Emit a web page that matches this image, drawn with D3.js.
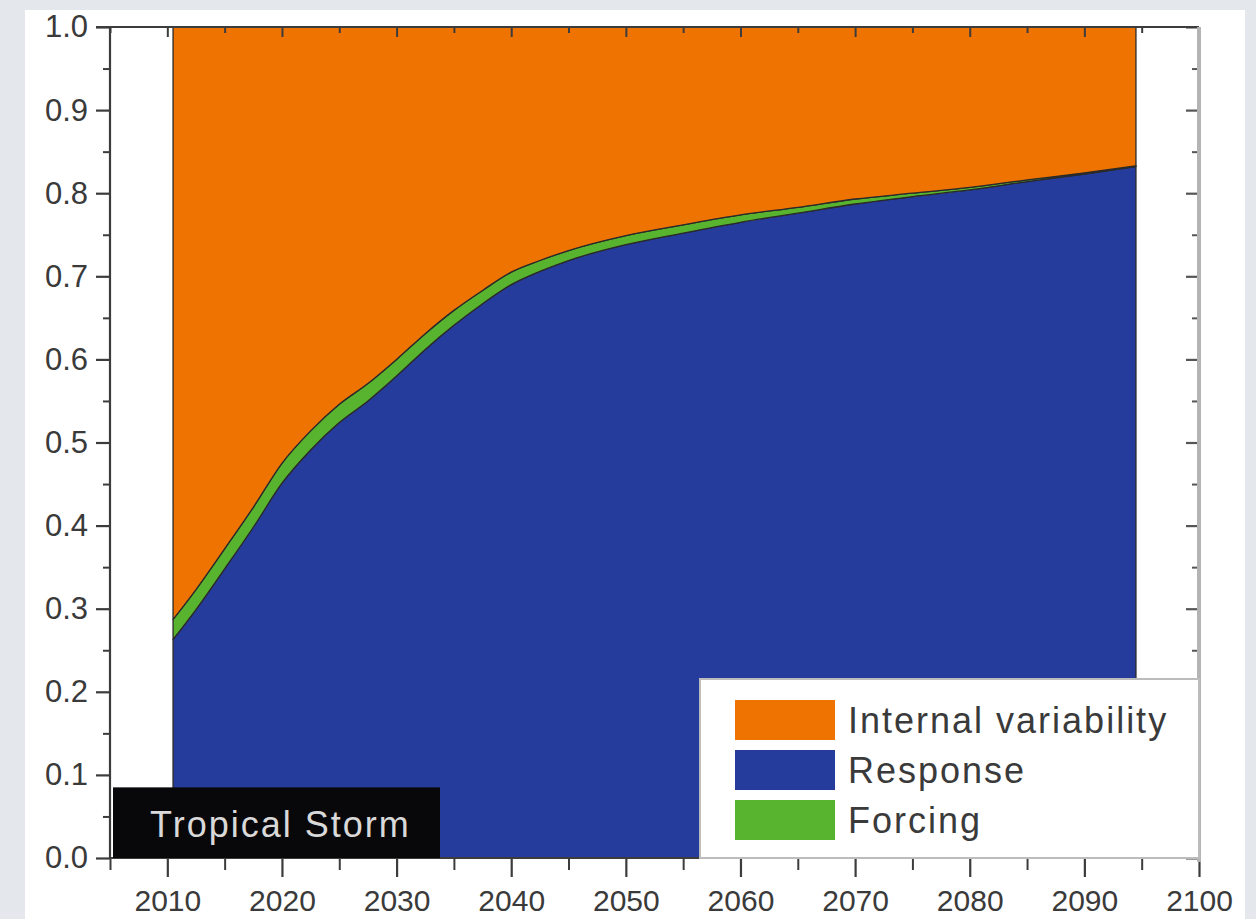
<!DOCTYPE html>
<html>
<head>
<meta charset="utf-8">
<script src="https://cdn.jsdelivr.net/npm/d3@7"></script>
<style>
  html, body { margin: 0; padding: 0; background: #e4e7eb; }
  svg { display: block; }
  text { font-family: "Liberation Sans", Arial, sans-serif; }
</style>
</head>
<body>
<svg id="chart" width="1256" height="919"></svg>
<script>
// Fraction of total uncertainty by source, tropical storm counts
const years    = [2010.5, 2012.5, 2015, 2017.5, 2020, 2022.5, 2025, 2027.5, 2030, 2032.5, 2035, 2037.5, 2040, 2042.5, 2045, 2050, 2055, 2060, 2065, 2070, 2075, 2080, 2085, 2090, 2094.5];
const response = [0.263, 0.299, 0.348, 0.398, 0.451, 0.491, 0.524, 0.550, 0.580, 0.612, 0.641, 0.667, 0.690, 0.706, 0.719, 0.738, 0.752, 0.765, 0.776, 0.787, 0.796, 0.804, 0.814, 0.823, 0.832];
const forcing  = [0.024, 0.024, 0.024, 0.024, 0.024, 0.023, 0.022, 0.021, 0.020, 0.019, 0.018, 0.016, 0.015, 0.013, 0.012, 0.011, 0.010, 0.009, 0.007, 0.006, 0.004, 0.003, 0.002, 0.0015, 0.001];
const internal = [0.713, 0.677, 0.628, 0.578, 0.525, 0.486, 0.454, 0.429, 0.400, 0.369, 0.341, 0.317, 0.295, 0.281, 0.269, 0.251, 0.238, 0.226, 0.217, 0.207, 0.200, 0.193, 0.184, 0.1755, 0.167];

const seriesKeys   = ["response", "forcing", "internal"];
const legendLabels = ["Internal variability", "Response", "Forcing"];
const legendKeys   = ["internal", "response", "forcing"];
const colors = { internal: "#ef7300", response: "#253c9c", forcing: "#58b42e" };

const xMajorTicks = d3.range(2010, 2101, 10);
const xMinorTicks = d3.range(2005, 2100, 10);
const yMajorTicks = d3.range(0, 11).map(i => i / 10);
const yMinorTicks = d3.range(0, 10).map(i => i / 10 + 0.05);
const panelTitle = "Tropical Storm";

const rows = years.map((yr, i) => ({ year: yr, response: response[i], forcing: forcing[i], internal: internal[i] }));

const svg = d3.select("#chart");
const W = 1256, H = 919;

// white card
svg.append("rect").attr("x", 25).attr("y", 10).attr("width", 1220).attr("height", H - 10).attr("fill", "#ffffff");

const plotL = 110, plotR = 1199, plotT = 27, plotB = 858;
const x = d3.scaleLinear().domain([2005, 2100]).range([plotL, plotR]);
const y = d3.scaleLinear().domain([0, 1]).range([plotB, plotT]);

const stacked = d3.stack().keys(seriesKeys)(rows);
const area = d3.area()
  .x(d => x(d.data.year))
  .y0(d => y(d[0]))
  .y1(d => y(d[1]))
  .curve(d3.curveMonotoneX);

svg.append("g").selectAll("path")
  .data(stacked)
  .join("path")
  .attr("d", area)
  .attr("fill", d => colors[d.key])
  .attr("stroke", "#2a2a2a")
  .attr("stroke-width", 1.3)
  .attr("stroke-linejoin", "round");

// axes
const axisColor = "#3c3c3c";
function styleAxis(g, color, width) {
  g.select(".domain").remove();
  g.selectAll(".tick line").attr("stroke", color).attr("stroke-width", width);
  g.selectAll(".tick text").attr("fill", "#3a3a3a").style("font-size", "30px");
}

// bottom
svg.append("g").attr("transform", `translate(0,${plotB})`)
  .call(d3.axisBottom(x).tickValues(xMinorTicks).tickSize(12).tickFormat(""))
  .call(g => styleAxis(g, axisColor, 2));
svg.append("g").attr("transform", `translate(0,${plotB})`)
  .call(d3.axisBottom(x).tickValues(xMajorTicks).tickSize(19).tickPadding(13).tickFormat(d3.format("d")))
  .call(g => styleAxis(g, axisColor, 2.2));

// top (inward)
svg.append("g").attr("transform", `translate(0,${plotT})`)
  .call(d3.axisTop(x).tickValues(xMajorTicks).tickSize(-10).tickFormat(""))
  .call(g => styleAxis(g, axisColor, 2));
svg.append("g").attr("transform", `translate(0,${plotT})`)
  .call(d3.axisTop(x).tickValues(xMinorTicks).tickSize(-6).tickFormat(""))
  .call(g => styleAxis(g, axisColor, 2));

// left
svg.append("g").attr("transform", `translate(${plotL},0)`)
  .call(d3.axisLeft(y).tickValues(yMinorTicks).tickSize(7).tickFormat(""))
  .call(g => styleAxis(g, axisColor, 2));
svg.append("g").attr("transform", `translate(${plotL},0)`)
  .call(d3.axisLeft(y).tickValues(yMajorTicks).tickSize(14).tickPadding(8).tickFormat(d3.format(".1f")))
  .call(g => styleAxis(g, axisColor, 2.2))
  .call(g => g.selectAll(".tick text").style("font-size", "31px"));

// right (inward)
svg.append("g").attr("transform", `translate(${plotR},0)`)
  .call(d3.axisRight(y).tickValues(yMajorTicks).tickSize(-13).tickFormat(""))
  .call(g => styleAxis(g, "#555", 2.2));
svg.append("g").attr("transform", `translate(${plotR},0)`)
  .call(d3.axisRight(y).tickValues(yMinorTicks).tickSize(-7).tickFormat(""))
  .call(g => styleAxis(g, "#555", 2));

// frame
svg.append("line").attr("x1", plotL - 14).attr("x2", plotR).attr("y1", plotT).attr("y2", plotT).attr("stroke", axisColor).attr("stroke-width", 2.2);
svg.append("line").attr("x1", plotL).attr("x2", plotL).attr("y1", plotT).attr("y2", plotB).attr("stroke", axisColor).attr("stroke-width", 2.2);
svg.append("line").attr("x1", plotL).attr("x2", plotR).attr("y1", plotB).attr("y2", plotB).attr("stroke", axisColor).attr("stroke-width", 2.2);
svg.append("line").attr("x1", plotR).attr("x2", plotR).attr("y1", plotT).attr("y2", plotB + 4).attr("stroke", "#b4b4b4").attr("stroke-width", 4);

// panel label
const lab = svg.append("g");
lab.append("rect").attr("x", x(2005) + 3).attr("y", y(0.085)).attr("width", 327).attr("height", plotB - y(0.085)).attr("fill", "#08080a");
lab.append("text").attr("x", 150).attr("y", 837).attr("fill", "#d9d9d9")
  .style("font-size", "36px").style("letter-spacing", "2px").text(panelTitle);

// legend
const lg = svg.append("g");
lg.append("rect").attr("x", 700).attr("y", 679).attr("width", plotR - 700).attr("height", plotB - 679)
  .attr("fill", "#ffffff").attr("stroke", "#bcbcbc").attr("stroke-width", 2);
legendKeys.forEach((k, i) => {
  const yy = 700 + i * 50;
  lg.append("rect").attr("x", 735).attr("y", yy).attr("width", 100).attr("height", 40).attr("fill", colors[k]);
  lg.append("text").attr("x", 848).attr("y", yy + 33).attr("fill", "#3a3a3a")
    .style("font-size", "36px").style("letter-spacing", "2px").text(legendLabels[i]);
});
</script>
</body>
</html>
